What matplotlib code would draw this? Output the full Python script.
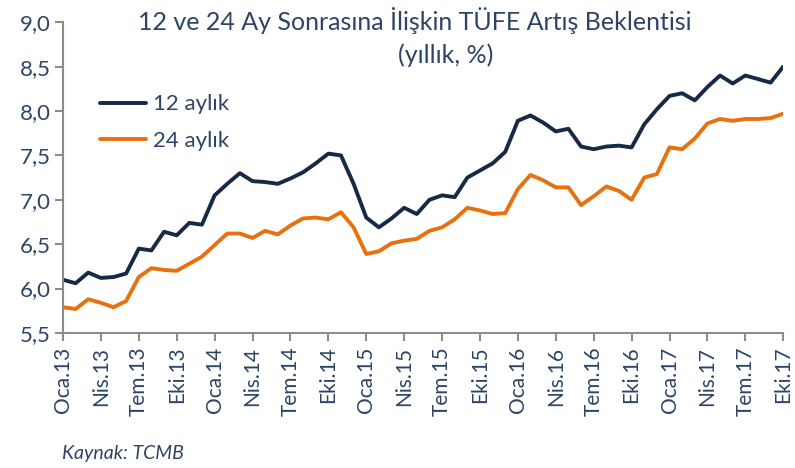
import numpy as np
import matplotlib.pyplot as plt

plt.rcParams['font.family'] = ['Lato', 'DejaVu Sans']

textColor = "#2e4466"
axisColor = "#8c8c8c"
color12 = "#172a45"
color24 = "#e8710f"

months = ["Oca", "Şub", "Mar", "Nis", "May", "Haz", "Tem", "Ağu", "Eyl", "Eki", "Kas", "Ara"]
monthLabels = ["Oca", "Nis", "Tem", "Eki"]

# 12 month ahead expectations, Oca.13 - Eki.17
exp12 = [6.10, 6.06, 6.18, 6.12, 6.13, 6.17, 6.45, 6.43, 6.64, 6.60, 6.74, 6.72,
         7.05, 7.18, 7.30, 7.21, 7.20, 7.18, 7.24, 7.31, 7.41, 7.52, 7.50, 7.18,
         6.80, 6.69, 6.79, 6.91, 6.84, 7.00, 7.05, 7.03, 7.25, 7.33, 7.41, 7.54,
         7.89, 7.95, 7.87, 7.77, 7.80, 7.60, 7.57, 7.60, 7.61, 7.59, 7.85, 8.02,
         8.17, 8.20, 8.12, 8.27, 8.40, 8.31, 8.40, 8.36, 8.32, 8.50]

# 24 month ahead expectations
exp24 = [5.79, 5.77, 5.88, 5.84, 5.79, 5.86, 6.13, 6.23, 6.21, 6.20, 6.28, 6.36,
         6.49, 6.62, 6.62, 6.57, 6.65, 6.61, 6.71, 6.79, 6.80, 6.78, 6.86, 6.69,
         6.39, 6.42, 6.51, 6.54, 6.56, 6.65, 6.69, 6.78, 6.91, 6.88, 6.84, 6.85,
         7.12, 7.28, 7.22, 7.14, 7.14, 6.94, 7.04, 7.15, 7.10, 7.00, 7.25, 7.29,
         7.59, 7.57, 7.69, 7.86, 7.91, 7.89, 7.91, 7.91, 7.92, 7.97]

x = np.arange(len(exp12))
labels = []
tickPos = []
for i in x:
    m = months[i % 12]
    if m in monthLabels:
        tickPos.append(i)
        labels.append(m + "." + str(13 + i // 12))

fig = plt.figure(figsize=(7.95, 4.68), dpi=100)
ax = fig.add_axes([0.0792, 0.2885, 0.906, 0.664])

ax.plot(x, exp12, color=color12, linewidth=2.8, solid_joinstyle="round",
        solid_capstyle="round", label="12 aylık")
ax.plot(x, exp24, color=color24, linewidth=2.8, solid_joinstyle="round",
        solid_capstyle="round", label="24 aylık")

ax.set_xlim(0, len(x) - 1)
ax.set_ylim(5.5, 9.0)
ax.set_yticks(np.arange(5.5, 9.01, 0.5))
ax.set_yticklabels([("%.1f" % v).replace(".", ",") for v in np.arange(5.5, 9.01, 0.5)])
ax.set_xticks(tickPos)
ax.set_xticklabels(labels, rotation=90)

for s in ["top", "right"]:
    ax.spines[s].set_visible(False)
for s in ["left", "bottom"]:
    ax.spines[s].set_color(axisColor)
    ax.spines[s].set_linewidth(1.5)
ax.tick_params(axis="both", colors=axisColor, labelcolor=textColor, direction="out",
               length=6, width=1.5)
ax.tick_params(axis="y", labelsize=16, pad=3)
ax.tick_params(axis="x", labelsize=15, pad=4)

leg = ax.legend(loc="upper left", bbox_to_anchor=(0.051, 0.768), frameon=False,
                fontsize=16, handlelength=2.1, handletextpad=0.3, labelspacing=0.75,
                borderpad=0, borderaxespad=0, labelcolor=textColor)

fig.text(0.522, 0.957, "12 ve 24 Ay Sonrasına İlişkin TÜFE Artış Beklentisi",
         ha="center", va="center", fontsize=18, color=textColor)
fig.text(0.56, 0.882, "(yıllık, %)", ha="center", va="center", fontsize=18,
         color=textColor)
fig.text(0.078, 0.032, "Kaynak: TCMB", ha="left", va="center", fontsize=14,
         style="italic", color=textColor)

fig.savefig("out.png", dpi=100)
